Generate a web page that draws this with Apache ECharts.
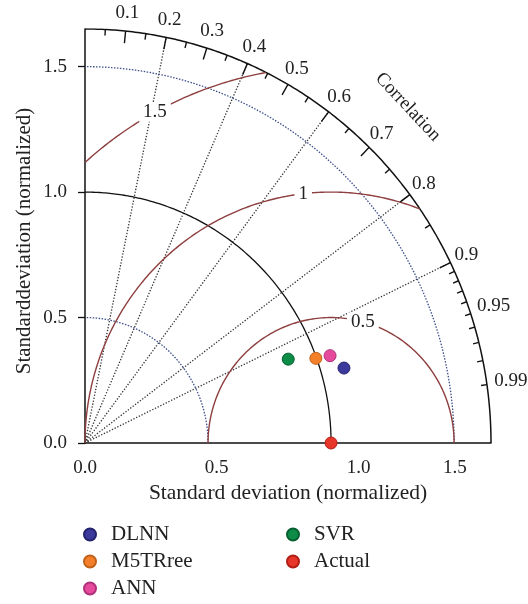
<!DOCTYPE html>
<html><head><meta charset="utf-8">
<script src="https://cdn.jsdelivr.net/npm/echarts@6/dist/echarts.min.js"></script>
<style>html,body{margin:0;padding:0;background:#fff}#c{width:528px;height:604px}</style>
</head><body><div id="c"></div>
<script>
// ---------- data ----------
const models   = ['DLNN', 'M5TRree', 'ANN', 'SVR', 'Actual'];
const stdDev   = [1.094, 0.997, 1.055, 0.891, 1.0];
const corrCoef = [0.962, 0.941, 0.944, 0.927, 1.0];
const dotColors   = ['#3b3a9c', '#f47f2a', '#e64a9c', '#0d8c48', '#e8352a'];
const dotBorders  = ['#24236e', '#c0621a', '#b0317a', '#07602f', '#b01e15'];

const stdMax   = 1.65;
const refStd   = 1.0;
const stdArcs  = [0.5, 1.5];
const rmsLevels = [0.5, 1.0, 1.5];
const rmsLabels = ['0.5', '1', '1.5'];
const rmsLabelAngle = [75, 96.5, 118.5];
const corrLines = [0.2, 0.4, 0.6, 0.8, 0.9];
const corrLabelValues = [0.1, 0.2, 0.3, 0.4, 0.5, 0.6, 0.7, 0.8, 0.9, 0.95, 0.99];
const corrLabelTexts  = ['0.1','0.2','0.3','0.4','0.5','0.6','0.7','0.8','0.9','0.95','0.99'];
const corrMajorTicks = [0.1, 0.2, 0.3, 0.4, 0.5, 0.6, 0.7, 0.8, 0.9];
const corrMinorTicks = [0.05, 0.15, 0.25, 0.35, 0.45, 0.55, 0.65, 0.75, 0.85,
                        0.91, 0.92, 0.93, 0.94, 0.95, 0.96, 0.97, 0.98, 0.99];
const yTickValues = [0, 0.5, 1.0, 1.5];
const yTickLabels = ['0.0', '0.5', '1.0', '1.5'];
const xTickLabels = ['0.0', '0.5', '1.0', '1.5'];
const xTickLabelAt = [0, 0.535, 1.112, 1.503];

// ---------- helpers ----------
const FONT = '"Liberation Serif", "DejaVu Serif", serif';
function polar(s, c) { const t = Math.acos(c); return [s * Math.cos(t), s * Math.sin(t)]; }
function arcPts(cx, r) {
  const pts = [];
  const n = 1500;
  for (let i = 0; i <= n; i++) {
    const t = Math.PI * i / n;
    const x = cx + r * Math.cos(t), y = r * Math.sin(t);
    if (x >= -1e-9 && x * x + y * y <= stdMax * stdMax + 1e-9) pts.push([x, y]);
  }
  return pts;
}
function lineSeries(data, color, width, dash, z) {
  return { type: 'line', data, showSymbol: false, symbol: 'none', silent: true, animation: false,
    z: z || 2, lineStyle: { color, width, type: dash || 'solid' } };
}

const series = [];
// std arcs (blue dotted)
stdArcs.forEach(r => series.push(lineSeries(arcPts(0, r), '#3d4f8a', 1.3, [1.5, 1.5])));
// reference std arc (black)
series.push(lineSeries(arcPts(0, refStd), '#111', 1.3));
// outer arc
series.push(lineSeries(arcPts(0, stdMax), '#111', 1.5));
// rms arcs
rmsLevels.forEach(r => series.push(lineSeries(arcPts(refStd, r), '#8e3f3f', 1.4)));
// correlation radial dotted lines
series.push({
  type: 'custom', silent: true, animation: false, z: 2,
  data: corrLines.map(c => [c, 0]),
  renderItem: (p, api) => {
    const c = api.value(0);
    const a = api.coord([0, 0]), b = api.coord(polar(stdMax, c));
    return { type: 'line', shape: { x1: a[0], y1: a[1], x2: b[0], y2: b[1] },
      style: { stroke: '#333', lineWidth: 1.3, lineDash: [1.3, 1.7] } };
  }
});
// correlation ticks
const tickData = corrMajorTicks.map(c => [c, 0.048]).concat(corrMinorTicks.map(c => [c, 0.024]));
series.push({
  type: 'custom', silent: true, animation: false, z: 3,
  data: tickData,
  renderItem: (p, api) => {
    const c = api.value(0), len = api.value(1);
    const a = api.coord(polar(stdMax, c)), b = api.coord(polar(stdMax - len, c));
    return { type: 'line', shape: { x1: a[0], y1: a[1], x2: b[0], y2: b[1] },
      style: { stroke: '#111', lineWidth: 1.4 } };
  }
});
// correlation labels
series.push({
  type: 'custom', silent: true, animation: false, z: 5,
  data: corrLabelValues.map((c, i) => [c, i]),
  renderItem: (p, api) => {
    const c = api.value(0), i = api.value(1);
    const txt = corrLabelTexts[i];
    const R = txt.length > 3 ? 1.748 : 1.722;
    const pt = api.coord(polar(R, c));
    return { type: 'text', x: pt[0], y: pt[1],
      style: { text: txt, align: 'center', verticalAlign: 'middle', font: '19px ' + FONT, fill: '#222' } };
  }
});
// Correlation title
series.push({
  type: 'custom', silent: true, animation: false, z: 5,
  data: [[Math.cos(45.6 * Math.PI / 180), 1.875]],
  renderItem: (p, api) => {
    const pt = api.coord(polar(api.value(1), api.value(0)));
    return { type: 'text', x: pt[0], y: pt[1], rotation: -47 * Math.PI / 180,
      style: { text: 'Correlation', align: 'center', verticalAlign: 'middle', font: '19px ' + FONT, fill: '#222' } };
  }
});
// rms labels
series.push({
  type: 'custom', silent: true, animation: false, z: 6,
  data: rmsLevels.map((r, i) => [r, i]),
  renderItem: (p, api) => {
    const r = api.value(0), i = api.value(1);
    const t = rmsLabelAngle[i] * Math.PI / 180;
    const pt = api.coord([refStd + r * Math.cos(t), r * Math.sin(t)]);
    return { type: 'text', x: pt[0], y: pt[1],
      style: { text: rmsLabels[i], align: 'center', verticalAlign: 'middle', font: '19px ' + FONT,
        fill: '#222', backgroundColor: '#fff', padding: [0, 4] } };
  }
});
// model points
models.forEach((m, i) => {
  series.push({
    type: 'scatter', name: m, z: 10, animation: false,
    symbol: 'circle', symbolSize: 12,
    data: [polar(stdDev[i], corrCoef[i])],
    itemStyle: { color: dotColors[i], borderColor: dotBorders[i], borderWidth: 1, opacity: 1 }
  });
});

const legendCommon = {
  orient: 'vertical', top: 524, height: 140, padding: 0,
  icon: 'circle', itemWidth: 32, itemHeight: 12, itemGap: 6,
  textStyle: { fontFamily: FONT, fontSize: 21, color: '#222', lineHeight: 18 }
};

const chart = echarts.init(document.getElementById('c'), null, { renderer: 'canvas' });
chart.setOption({
  backgroundColor: '#fff',
  animation: false,
  grid: { left: 85, top: 29, width: 406, height: 414, containLabel: false, outerBoundsMode: 'none' },
  xAxis: {
    type: 'value', min: 0, max: stdMax,
    name: 'Standard deviation (normalized)', nameLocation: 'middle', nameGap: 39,
    nameMoveOverlap: false,
    nameTextStyle: { fontFamily: FONT, fontSize: 21.5, color: '#222' },
    axisLine: { show: true, onZero: false, lineStyle: { color: '#111', width: 1.5 } },
    axisTick: { show: false },
    splitLine: { show: false },
    axisLabel: {
      customValues: xTickLabelAt,
      formatter: v => {
        let best = 0;
        xTickLabelAt.forEach((p, k) => { if (Math.abs(p - v) < Math.abs(xTickLabelAt[best] - v)) best = k; });
        return xTickLabels[best];
      },
      margin: 16, fontFamily: FONT, fontSize: 19, color: '#222'
    }
  },
  yAxis: {
    type: 'value', min: 0, max: stdMax,
    name: 'Standarddeviation (normalized)', nameLocation: 'middle', nameGap: 50,
    nameMoveOverlap: false,
    nameTextStyle: { fontFamily: FONT, fontSize: 21, color: '#222', padding: [0, 10, 0, 0] },
    axisLine: { show: true, onZero: false, lineStyle: { color: '#111', width: 1.5 } },
    axisTick: { show: true, customValues: yTickValues, length: 7, lineStyle: { color: '#111', width: 1.3 } },
    splitLine: { show: false },
    axisLabel: {
      customValues: yTickValues,
      formatter: v => yTickLabels[yTickValues.indexOf(Math.round(v * 10) / 10)] || '',
      margin: 18, fontFamily: FONT, fontSize: 19, color: '#222'
    }
  },
  legend: [
    Object.assign({ data: ['DLNN', 'M5TRree', 'ANN'], left: 83 }, legendCommon),
    Object.assign({ data: ['SVR', 'Actual'], left: 286 }, legendCommon)
  ],
  series
});
</script></body></html>
